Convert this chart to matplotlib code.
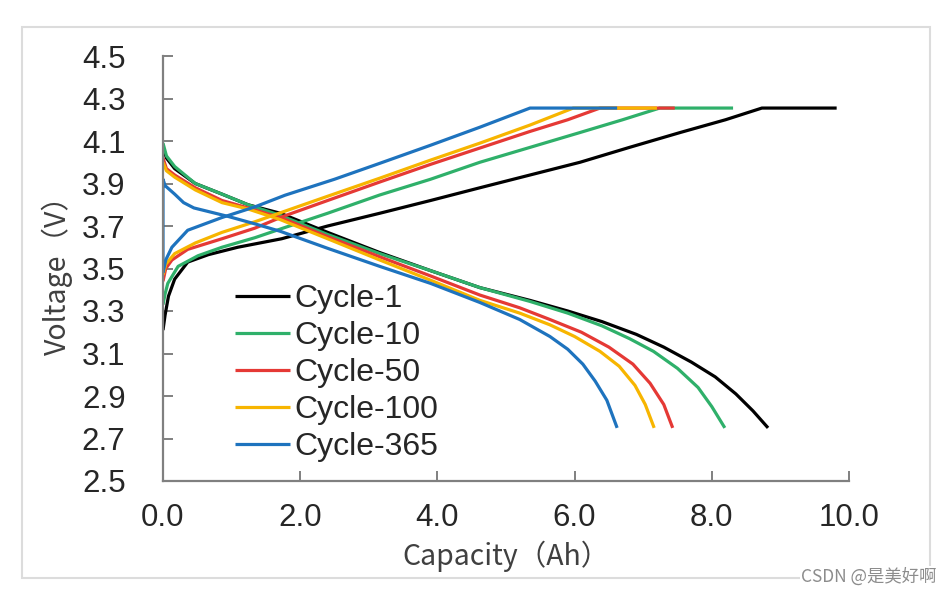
import numpy as np
import matplotlib.pyplot as plt
import matplotlib as mpl
from matplotlib.patches import Rectangle

# charge curves (capacity [Ah], voltage [V])
chg_1_x = [0, 0.03, 0.08, 0.17, 0.36, 0.66, 1.09, 1.73, 2.4, 3.16, 3.9, 4.62, 5.35, 6.08, 6.8, 7.54, 8.2, 8.73, 9.82]
chg_1_v = [3.21, 3.28, 3.37, 3.45, 3.53, 3.565, 3.60, 3.64, 3.70, 3.76, 3.82, 3.88, 3.94, 4.00, 4.07, 4.14, 4.20, 4.255, 4.255]
chg_10_x = [0, 0.03, 0.07, 0.22, 0.51, 0.86, 1.34, 1.75, 2.4, 3.16, 3.9, 4.62, 5.35, 6.08, 6.7, 7.24, 8.31]
chg_10_v = [3.33, 3.38, 3.43, 3.51, 3.56, 3.60, 3.645, 3.69, 3.76, 3.846, 3.92, 4.0, 4.07, 4.14, 4.20, 4.255, 4.255]
chg_50_x = [0, 0.04, 0.13, 0.36, 0.86, 1.34, 1.75, 2.4, 3.16, 3.9, 4.62, 5.35, 5.9, 6.37, 7.46]
chg_50_v = [3.44, 3.50, 3.54, 3.59, 3.64, 3.69, 3.745, 3.82, 3.907, 3.99, 4.067, 4.145, 4.20, 4.255, 4.255]
chg_100_x = [0, 0.04, 0.17, 0.47, 0.86, 1.34, 1.78, 2.4, 3.16, 3.9, 4.62, 5.35, 5.98, 7.2]
chg_100_v = [3.47, 3.52, 3.57, 3.62, 3.67, 3.72, 3.77, 3.84, 3.925, 4.01, 4.09, 4.175, 4.255, 4.255]
chg_365_x = [0, 0.04, 0.13, 0.36, 0.86, 1.34, 1.78, 2.5, 3.16, 3.9, 4.62, 5.35, 6.62]
chg_365_v = [3.48, 3.54, 3.60, 3.68, 3.74, 3.79, 3.845, 3.92, 3.995, 4.08, 4.165, 4.255, 4.255]

# discharge curves
dis_1_x = [0, 0.05, 0.17, 0.47, 0.86, 1.24, 1.71, 2.4, 3.16, 3.9, 4.62, 5.35, 5.9, 6.4, 6.9, 7.3, 7.7, 8.05, 8.35, 8.6, 8.82]
dis_1_v = [4.07, 4.02, 3.97, 3.90, 3.85, 3.80, 3.76, 3.67, 3.575, 3.49, 3.41, 3.35, 3.30, 3.25, 3.19, 3.13, 3.06, 2.99, 2.91, 2.83, 2.75]
dis_10_x = [0, 0.05, 0.17, 0.47, 0.86, 1.24, 1.71, 2.4, 3.16, 3.9, 4.62, 5.35, 5.9, 6.4, 6.8, 7.15, 7.5, 7.8, 8.0, 8.19]
dis_10_v = [4.09, 4.03, 3.98, 3.90, 3.85, 3.80, 3.75, 3.66, 3.57, 3.49, 3.41, 3.345, 3.29, 3.23, 3.17, 3.11, 3.03, 2.94, 2.85, 2.75]
dis_50_x = [0, 0.05, 0.17, 0.47, 0.86, 1.24, 1.71, 2.4, 3.16, 3.9, 4.62, 5.2, 5.64, 6.1, 6.5, 6.85, 7.1, 7.3, 7.43]
dis_50_v = [4.02, 3.97, 3.94, 3.88, 3.82, 3.785, 3.74, 3.65, 3.555, 3.465, 3.375, 3.315, 3.26, 3.20, 3.13, 3.05, 2.96, 2.86, 2.75]
dis_100_x = [0, 0.05, 0.17, 0.47, 0.86, 1.24, 1.71, 2.4, 3.16, 3.9, 4.62, 5.2, 5.64, 6.0, 6.37, 6.65, 6.88, 7.03, 7.16]
dis_100_v = [4.00, 3.96, 3.93, 3.87, 3.81, 3.78, 3.73, 3.64, 3.54, 3.445, 3.35, 3.29, 3.235, 3.18, 3.11, 3.04, 2.95, 2.86, 2.75]
dis_365_x = [0, 0, 0.03, 0.17, 0.3, 0.45, 0.95, 1.34, 1.71, 2.4, 3.16, 3.9, 4.62, 5.2, 5.64, 5.9, 6.12, 6.3, 6.47, 6.62]
dis_365_v = [3.48, 3.92, 3.89, 3.85, 3.81, 3.785, 3.745, 3.71, 3.675, 3.595, 3.51, 3.43, 3.34, 3.26, 3.18, 3.12, 3.05, 2.97, 2.88, 2.75]

labels = ['Cycle-1', 'Cycle-10', 'Cycle-50', 'Cycle-100', 'Cycle-365']
colors = ['#000000', '#2fb06a', '#e53935', '#f7b500', '#1e73be']
charge = [(chg_1_x, chg_1_v), (chg_10_x, chg_10_v), (chg_50_x, chg_50_v), (chg_100_x, chg_100_v), (chg_365_x, chg_365_v)]
discharge = [(dis_1_x, dis_1_v), (dis_10_x, dis_10_v), (dis_50_x, dis_50_v), (dis_100_x, dis_100_v), (dis_365_x, dis_365_v)]

x_ticks = [0, 2, 4, 6, 8, 10]
y_ticks = [2.5, 2.7, 2.9, 3.1, 3.3, 3.5, 3.7, 3.9, 4.1, 4.3, 4.5]

mpl.rcParams['font.family'] = ['Liberation Sans', 'Noto Sans CJK SC']

# Create a figure of given size
fig = plt.figure(figsize=(9.53, 5.95), dpi=100)
ax = fig.add_axes([163/953, 1-481/595, (849-163)/953, (481-56)/595])

# plot
for (cx, cv), (dx, dv), col, lab in zip(charge, discharge, colors, labels):
    ax.plot(cx, cv, color=col, lw=2.3, label=lab, solid_capstyle='butt', solid_joinstyle='round')
    ax.plot(dx, dv, color=col, lw=2.3, solid_capstyle='butt', solid_joinstyle='round')

ax.set_xlim(0, 10)
ax.set_ylim(2.5, 4.5)
ax.set_xticks(x_ticks)
ax.set_xticklabels(['%.1f' % t for t in x_ticks])
ax.set_yticks(y_ticks)
ax.set_yticklabels(['%.1f' % t for t in y_ticks])

# Remove plot frame on the right and upper spines
ax.spines['right'].set_visible(False)
ax.spines['top'].set_visible(False)
for s in ['left', 'bottom']:
    ax.spines[s].set_color('#808080')
    ax.spines[s].set_linewidth(1.6)
ax.tick_params(direction='in', length=7, width=1.4, color='#808080',
               labelsize=22.5, labelcolor='#262626')
ax.tick_params(axis='x', pad=16)
ax.tick_params(axis='y', pad=27)

ax.set_xlabel('Capacity（Ah）', fontsize=20.5, color='#404040',
              family=['Noto Sans CJK SC'], labelpad=5)
ax.set_ylabel('Voltage（V）', fontsize=20.5, color='#404040',
              family=['Noto Sans CJK SC'], labelpad=6)

# add legend
ax.legend(loc='upper left', bbox_to_anchor=(235/953, 1-284/595), bbox_transform=fig.transFigure,
          frameon=False, fontsize=23, handlelength=1.72, handletextpad=0.15,
          labelspacing=0.22, borderpad=0, borderaxespad=0, labelcolor='#262626')

# light outer frame and watermark
fig.patches.append(Rectangle((22/953, 1-578/595), (930-22)/953, (578-27)/595,
                             transform=fig.transFigure, fill=False,
                             edgecolor='#dcdcdc', lw=1.5))
fig.text(937/953, 1-577/595, 'CSDN @是美好啊', ha='right', va='center', fontsize=12.5,
         color='#8c8c8c', family=['Noto Sans CJK SC'],
         bbox=dict(facecolor='white', edgecolor='none', pad=1))

# save plot to file
plt.savefig('out.png', dpi=100)
plt.close()
